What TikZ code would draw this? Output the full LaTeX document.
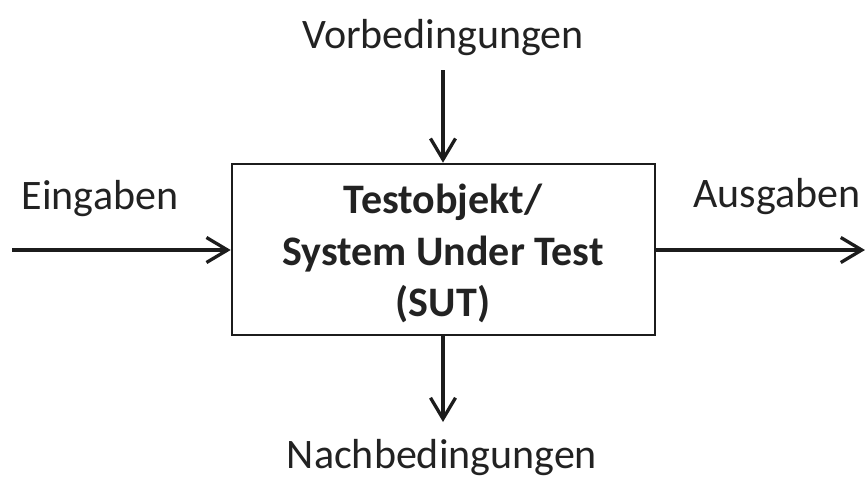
\documentclass[tikz,border=0pt]{standalone}
\usepackage{fontspec}
\setmainfont{Carlito}
\usetikzlibrary{arrows.meta}
\definecolor{ink}{HTML}{1C1C1C}
\definecolor{txt}{HTML}{222222}
\begin{document}
\begin{tikzpicture}[x=1pt,y=-1pt,
  flow/.style={draw=ink,line width=3.3pt,-{Straight Barb[length=21pt,width=25pt,line width=3.3pt]}},
  lbl/.style={anchor=base,inner sep=0pt,text=txt,font=\fontsize{42}{50}\selectfont},
  boldlbl/.style={lbl,font=\bfseries\fontsize{42}{52}\selectfont},
  sutbox/.style={draw=ink,line width=2.6pt,minimum width=423pt,minimum height=171pt,inner sep=0pt}]
  \useasboundingbox (0,0) rectangle (865,477);
  % system under test
  \node[sutbox] (sut) at (443.5,249.5) {};
  \node[boldlbl] (t1) at (443,213) {Testobjekt/};
  \node[boldlbl] (t2) at (443,265) {System Under Test};
  \node[boldlbl] (t3) at (443,316) {(SUT)};
  % surrounding labels
  \node[lbl] (vor) at (443,48) {Vorbedingungen};
  \node[lbl] (nach) at (442,468) {Nachbedingungen};
  \node[lbl] (ein) at (100,209) {Eingaben};
  \node[lbl] (aus) at (777,207) {Ausgaben};
  % free arrow ends
  \coordinate (inA) at (12,250);
  \coordinate (outA) at (865,250);
  \coordinate (topA) at (443,70);
  \coordinate (botA) at (443,422);
  % arrows
  \draw[flow] (inA) -- (inA -| sut.west);
  \draw[flow] (sut.east |- outA) -- (outA);
  \draw[flow] (topA) -- (topA |- sut.north);
  \draw[flow] (botA |- sut.south) -- (botA);
\end{tikzpicture}
\end{document}
